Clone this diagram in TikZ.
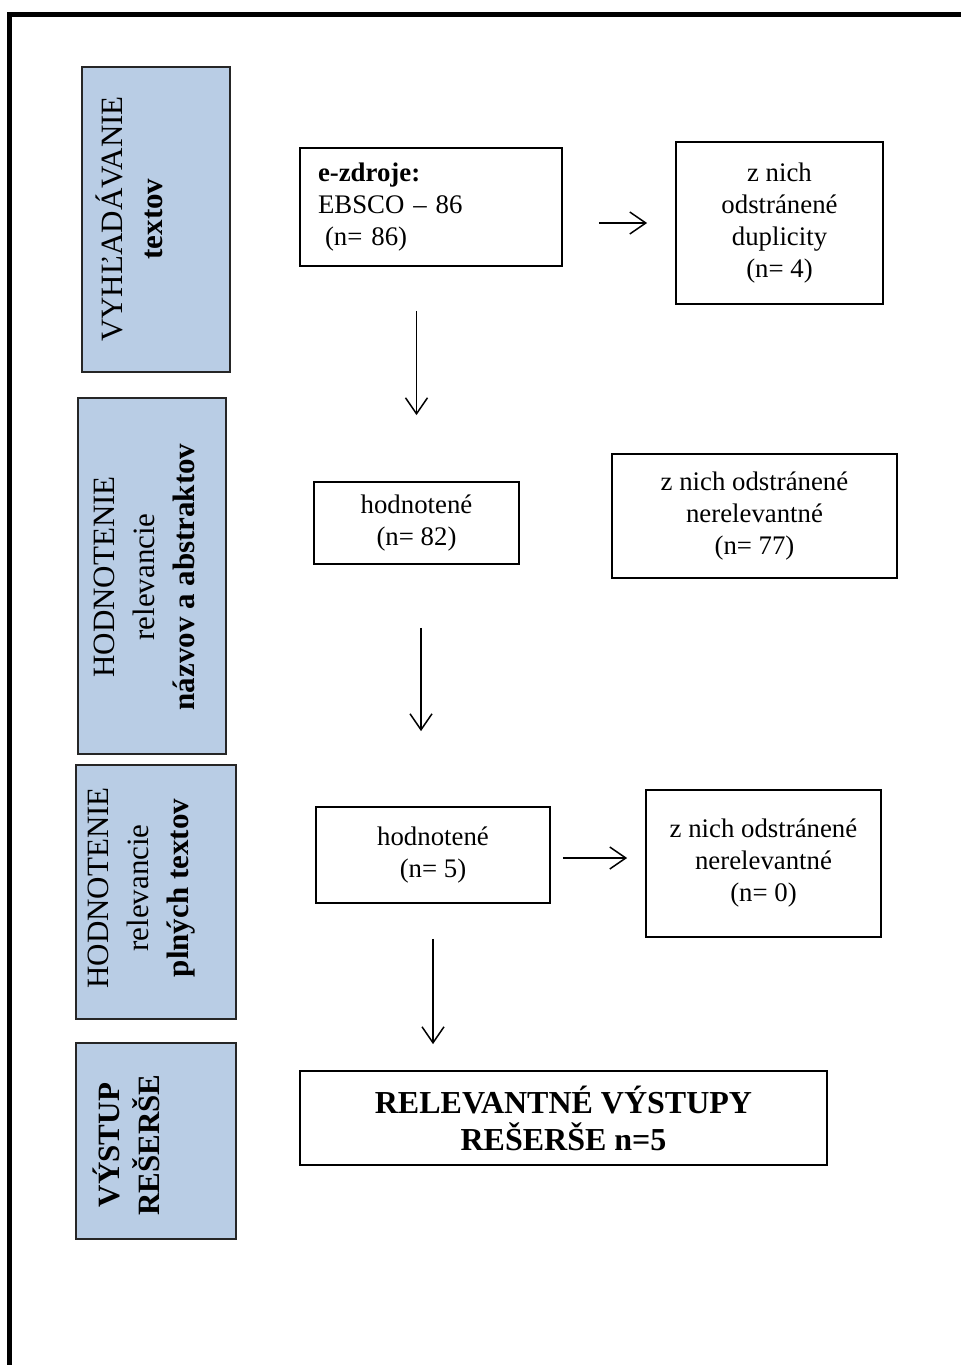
\documentclass[tikz,border=0pt]{standalone}
\usepackage{fontspec}
\setmainfont{Liberation Serif}
\usetikzlibrary{arrows.meta}
\definecolor{phaseblue}{HTML}{B9CDE5}
\tikzset{
  pbox/.style = {draw=black!85, fill=phaseblue, line width=0.9pt, inner sep=0pt},
  plabel/.style = {rotate=90, align=center, inner sep=0pt, font=\fontsize{15.5}{20}\selectfont},
  fnode/.style = {draw=black, line width=0.9pt, align=center, inner sep=0pt, font=\fontsize{13.4}{16}\selectfont},
  arr/.style = {-{Straight Barb[length=8pt,width=11pt]}, line width=0.75pt},
  frame/.style = {line width=2.2pt, line join=miter},
}

\begin{document}
\begin{tikzpicture}[x=0.5pt, y=-0.5pt]
\useasboundingbox (0,0) rectangle (961,1365);
\draw [frame] (961,14.5) -- (9.5,14.5) -- (9.5,1365);

% phases on the left
\node [pbox, minimum width=74pt, minimum height=152.5pt] (P1) at (156,219.5) {};
\node [pbox, minimum width=74pt, minimum height=178pt] (P2) at (152,576) {};
\node [pbox, minimum width=80pt, minimum height=127pt] (P3) at (156,892) {};
\node [pbox, minimum width=80pt, minimum height=98pt] (P4) at (156,1141) {};
\node [plabel] (L1) at (129,219) {VYHĽADÁVANIE\\\textbf{textov}};
\node [plabel] (L2) at (144,577) {HODNOTENIE\\relevancie\\\textbf{názvov a abstraktov}};
\node [plabel] (L3) at (142,888) {HODNOTENIE\\relevancie\\\textbf{plných textov}};
\node [plabel] (L4) at (126,1145) {\textbf{VÝSTUP}\\\textbf{REŠERŠE}};

% flow
\node [fnode, align=left, text width=113pt, inner xsep=9pt, minimum width=131pt, minimum height=59pt] (src) at (431,207)
  {\textbf{e-zdroje:}\\EBSCO – 86\\\hspace*{3.5pt}(n= 86)};
\node [fnode, minimum width=103.5pt, minimum height=81pt] (dup) at (779.5,223) {z nich\\odstránené\\duplicity\\(n= 4)};
\node [fnode, minimum width=102.5pt, minimum height=41pt] (rev1) at (416.5,523) {hodnotené\\(n= 82)};
\node [fnode, minimum width=142.5pt, minimum height=62pt] (excl1) at (754.5,516) {z nich odstránené\\nerelevantné\\(n= 77)};
\node [fnode, minimum width=117pt, minimum height=48pt] (rev2) at (433,855) {hodnotené\\(n= 5)};
\node [fnode, minimum width=117.5pt, minimum height=73.5pt] (excl2) at (763.5,863.5) {z nich odstránené\\nerelevantné\\(n= 0)};
\node [fnode, minimum width=263.5pt, minimum height=47pt, font=\fontsize{16}{18.5}\selectfont\bfseries] (out) at (563.5,1118)
  {RELEVANTNÉ VÝSTUPY\\REŠERŠE n=5};

\draw [arr, shorten <=18pt, shorten >=14pt] (src.east |- dup.west) -- (dup.west);
\draw [arr, shorten <=22pt, shorten >=33pt] (src.south -| rev1) -- (rev1.north);
\draw [arr, shorten <=31.5pt, shorten >=37.5pt] ([xshift=2.25pt]rev1.south) -- ([xshift=2.25pt]rev1.south |- rev2.north);
\draw [arr, shorten <=6pt, shorten >=9pt] ([yshift=-1.5pt]rev2.east) -- ([yshift=-1.5pt]rev2.east -| excl2.west);
\draw [arr, shorten <=17.5pt, shorten >=13pt] (rev2.south) -- (rev2.south |- out.north);
\end{tikzpicture}
\end{document}
